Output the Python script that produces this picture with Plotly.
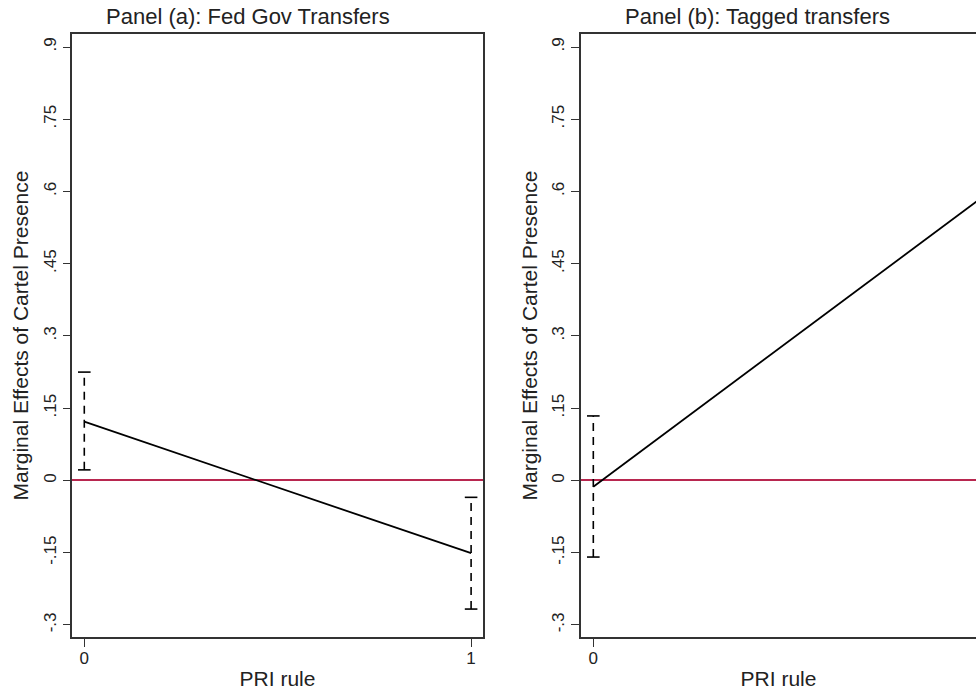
import plotly.graph_objects as go

# Data
pri_rule = [0, 1]
# Panel (a): Fed Gov Transfers
a_effect = [0.122, -0.151]
a_upper = [0.225, -0.035]
a_lower = [0.022, -0.267]
# Panel (b): Tagged transfers
b_effect = [-0.013, 0.585]
b_upper = [0.134, 0.821]
b_lower = [-0.159, 0.348]

y_ticks = [-0.3, -0.15, 0, 0.15, 0.3, 0.45, 0.6, 0.75, 0.9]
y_ticklabels = ["-.3", "-.15", "0", ".15", ".3", ".45", ".6", ".75", ".9"]
x_ticks = [0, 1]
x_ticklabels = ["0", "1"]

titles = ["Panel (a): Fed Gov Transfers", "Panel (b): Tagged transfers"]

FONT = "Liberation Sans, Arial, sans-serif"
W, H = 976, 692

fig = go.Figure()

panels = [(a_effect, a_upper, a_lower, "x", "y"), (b_effect, b_upper, b_lower, "x2", "y2")]
for eff, up, lo, xa, ya in panels:
    # CI dashed lines
    for i, xv in enumerate(pri_rule):
        fig.add_trace(go.Scatter(
            x=[xv, xv], y=[lo[i], up[i]], mode="lines+markers",
            line=dict(color="black", width=1.6, dash="8px,6px"),
            marker=dict(symbol="line-ew-open", size=9, line=dict(color="black", width=1.6)),
            xaxis=xa, yaxis=ya, showlegend=False, cliponaxis=False))
    fig.add_trace(go.Scatter(
        x=pri_rule, y=eff, mode="lines",
        line=dict(color="black", width=1.8),
        xaxis=xa, yaxis=ya, showlegend=False))

yrange = [-0.325, 0.927]
ydom = [(H - 637) / H, (H - 34) / H]

common_y = dict(
    range=yrange, domain=ydom, tickmode="array", tickvals=y_ticks, ticktext=y_ticklabels,
    tickangle=-90, ticks="outside", ticklen=8, tickwidth=1.3, tickcolor="#333",
    showline=True, linecolor="#333", linewidth=1.6, showgrid=False,
    zeroline=True, zerolinecolor="#b8274f", zerolinewidth=2,
    tickfont=dict(family=FONT, size=17, color="#222"),
    title=dict(text="Marginal Effects of Cartel Presence", font=dict(family=FONT, size=21, color="#222"), standoff=6),
    fixedrange=True, automargin=False,
)
common_x = dict(
    tickmode="array", tickvals=x_ticks, ticktext=x_ticklabels,
    ticks="outside", ticklen=8, tickwidth=1.3, tickcolor="#333",
    showline=True, linecolor="#333", linewidth=1.6, showgrid=False, zeroline=False,
    tickfont=dict(family=FONT, size=17, color="#222"), ticklabelstandoff=-3,
    title=dict(text="PRI rule", font=dict(family=FONT, size=21, color="#222"), standoff=4),
    fixedrange=True, automargin=False,
)

fig.update_layout(
    width=W, height=H,
    margin=dict(l=0, r=0, t=0, b=0, autoexpand=False),
    plot_bgcolor="white", paper_bgcolor="white",
    xaxis=dict(common_x, domain=[72.3 / W, 482.7 / W], range=[-0.031, 1.030], mirror=True, anchor="y"),
    yaxis=dict(common_y, anchor="x", mirror=True),
    xaxis2=dict(common_x, domain=[581 / W, 1.0], range=[-0.0318, 0.989], mirror=True, anchor="y2"),
    yaxis2=dict(common_y, anchor="x2", mirror=False),
    annotations=[
        dict(text=titles[0], x=248 / W, y=1 - 17 / H, xref="paper", yref="paper",
             showarrow=False, font=dict(family=FONT, size=22, color="#222"), xanchor="center", yanchor="middle"),
        dict(text=titles[1], x=757 / W, y=1 - 17 / H, xref="paper", yref="paper",
             showarrow=False, font=dict(family=FONT, size=22, color="#222"), xanchor="center", yanchor="middle"),
    ],
)

fig.write_html(
    "out.html",
    config={"displayModeBar": False},
    post_script="document.body.style.margin='0';document.body.style.overflow='hidden';",
)
